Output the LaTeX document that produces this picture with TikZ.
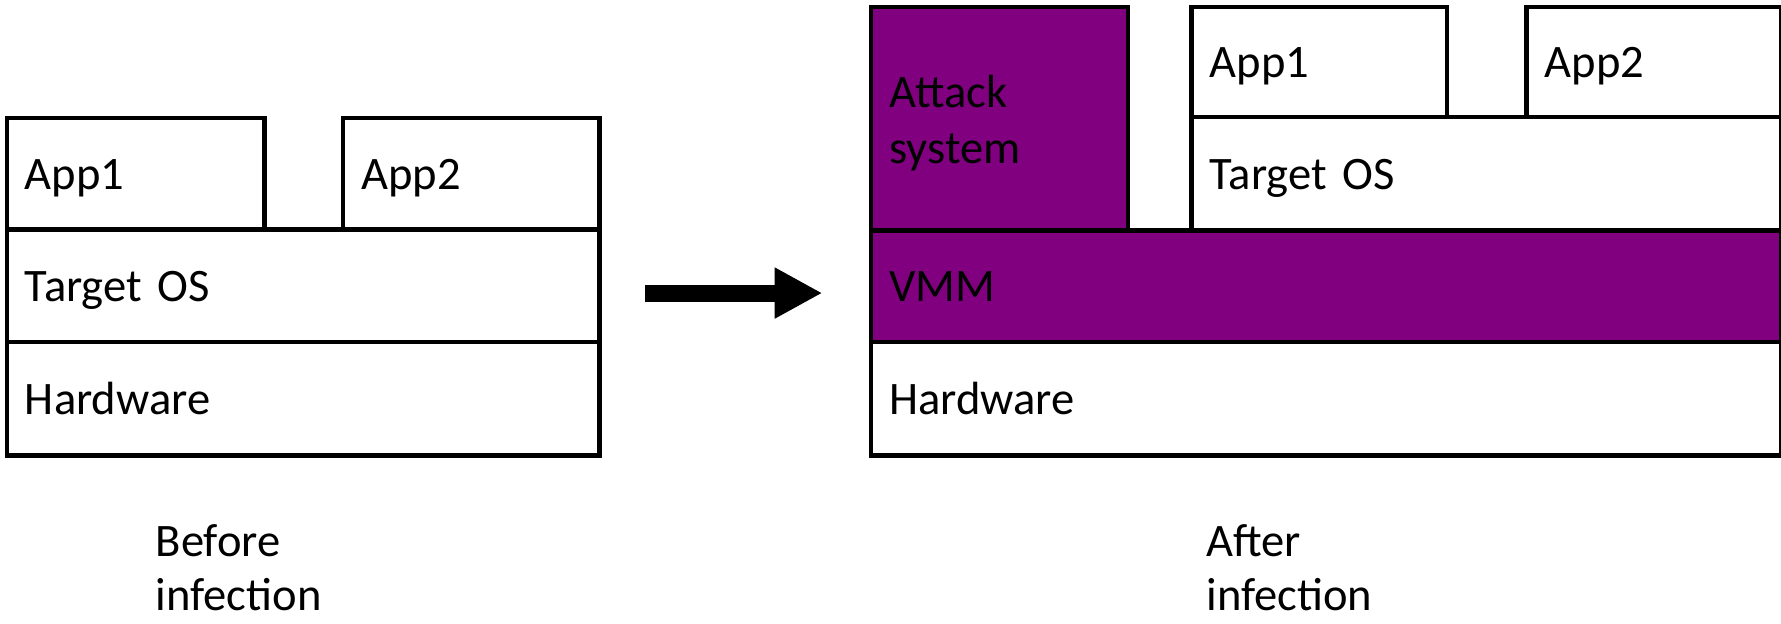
\documentclass[tikz,border=0pt]{standalone}
\usepackage{fontspec}
\setmainfont{Carlito}
\usetikzlibrary{arrows.meta}

\definecolor{attackpurple}{HTML}{800080}

\tikzset{
  layer/.style={draw, line width=4pt, anchor=north west, align=left,
    inner xsep=16pt, inner ysep=0pt, text height=36pt, text depth=8.6pt,
    font=\fontsize{41}{49}\selectfont},
  evil/.style={layer, fill=attackpurple},
}

\begin{document}
\begin{tikzpicture}[x=1pt,y=-1pt]

\useasboundingbox (0,0) rectangle (1568,549);
% \draw [red] (0,0) grid [step=100] (1568,549);

% before
\node [layer, text width=195, minimum height=98] (appA) at (4,102) {App1};
\node [layer, text width=194, minimum height=98] (appB) at (300,102) {App2};
\node [layer, text width=490, minimum height=99] (osA) at (4,200) {Target OS};
\node [layer, text width=490, minimum height=100] (hwA) at (4,299) {Hardware};

% after
\node [evil, text width=194, minimum height=197, text depth=55pt] (attack) at (765,4) {Attack\\system};
\node [layer, text width=193, minimum height=97] (appC) at (1047,4) {App1};
\node [layer, text width=192, minimum height=97] (appD) at (1342,4) {App2};
\node [layer, text width=487, minimum height=100] (osB) at (1047,101) {Target OS};
\node [evil, text width=769, minimum height=98] (vmm) at (765,201) {VMM};
\node [layer, text width=769, minimum height=100] (hwB) at (765,299) {Hardware};

\coordinate (from) at (568,258);
\coordinate (to) at (724,258);
\draw [line width=15pt, -{Triangle[length=42pt,width=42pt]}] (from) -- (to);

\node [anchor=west, align=left, inner sep=0, font=\fontsize{41}{48}\selectfont]
  (before) at (137,500) {Before\\infection};
\node [anchor=west, align=left, inner sep=0, font=\fontsize{41}{48}\selectfont]
  (after) at (1062,500) {After\\infection};

\end{tikzpicture}
\end{document}
